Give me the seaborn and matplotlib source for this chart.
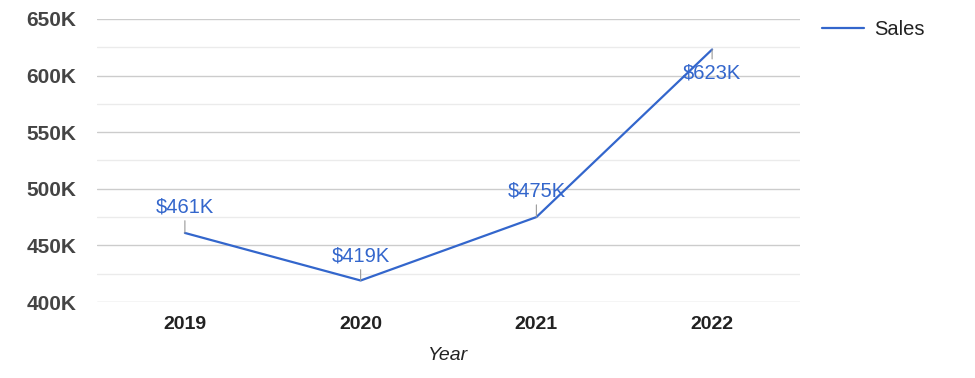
import seaborn as sns
import matplotlib.pyplot as plt
import pandas as pd
from matplotlib.ticker import MultipleLocator, FuncFormatter

# Sales per year, in thousands of dollars
years = ["2019", "2020", "2021", "2022"]
sales = [461, 419, 475, 623]
label_offsets = [19, 18, 19, -17]  # points above (+) or below (-) the marker

df = pd.DataFrame({"Year": years, "Sales": sales})

sns.set_theme(style="white")
plt.rcParams["font.family"] = ["Liberation Sans", "DejaVu Sans"]

fig = plt.figure(figsize=(9.75, 3.78), dpi=100)
ax = fig.add_axes([0.0995, 0.201, 0.721, 0.749])

blue = "#3366cc"
sns.lineplot(data=df, x="Year", y="Sales", ax=ax, color=blue, lw=1.6,
             label="Sales", sort=False)

for i, (yr, val) in enumerate(zip(years, sales)):
    off = label_offsets[i]
    ax.annotate(f"${val}K", xy=(i, val), xytext=(0, off),
                textcoords="offset points", ha="center", va="center",
                fontsize=14.5, color=blue,
                arrowprops=dict(arrowstyle="-", color="#999999", lw=0.8,
                                shrinkA=1, shrinkB=0))

ax.set_xlim(-0.5, 3.5)
ax.set_ylim(400, 650)
ax.yaxis.set_major_locator(MultipleLocator(50))
ax.yaxis.set_minor_locator(MultipleLocator(25))
ax.yaxis.set_major_formatter(FuncFormatter(lambda v, p: f"{int(v)}K"))
ax.grid(axis="y", which="major", color="#cccccc", lw=1)
ax.grid(axis="y", which="minor", color="#ebebeb", lw=1)
ax.set_axisbelow(True)
for s in ax.spines.values():
    s.set_visible(False)
ax.tick_params(axis="both", which="both", length=0)
ax.tick_params(axis="y", pad=15)
ax.tick_params(axis="x", pad=10)

for t in ax.get_yticklabels():
    t.set_fontweight("bold")
    t.set_fontsize(15)
    t.set_color("#444444")
for t in ax.get_xticklabels():
    t.set_fontweight("bold")
    t.set_fontsize(14)
    t.set_color("#222222")

ax.set_ylabel("")
ax.set_xlabel("Year", fontsize=14, style="italic", color="#222222", labelpad=10)

leg = ax.legend(loc="upper left", bbox_to_anchor=(1.02, 1.025), frameon=False,
                fontsize=14.5, handlelength=2.1, handletextpad=0.5,
                borderaxespad=0)
for t in leg.get_texts():
    t.set_color("#222222")

fig.savefig("out.png", dpi=100)
